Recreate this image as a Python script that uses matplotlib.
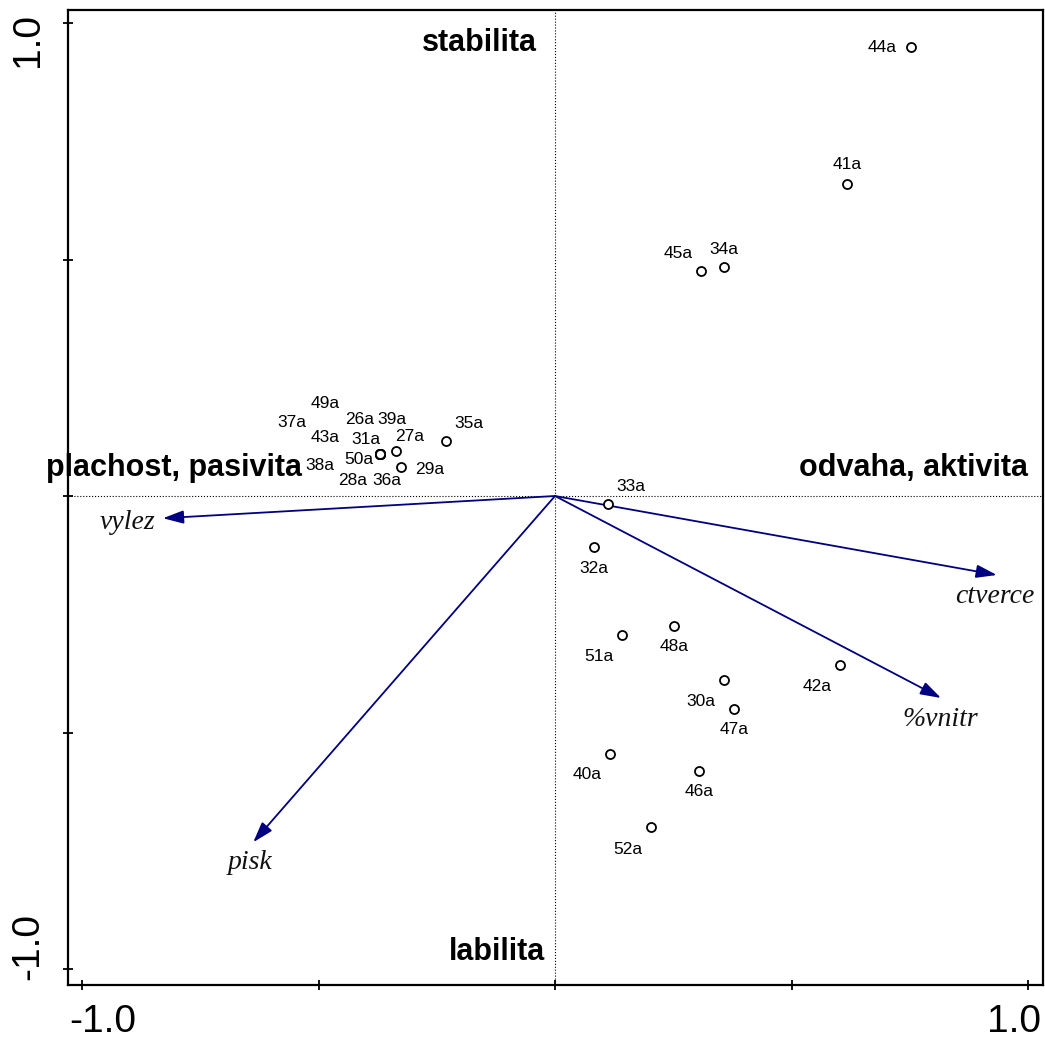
import matplotlib
matplotlib.use("Agg")
import matplotlib.pyplot as plt

# sample scores (samples as points)
vzorky = ["44a", "41a", "45a", "34a", "35a", "27a", "29a",
          "49a", "37a", "26a", "39a", "43a", "31a", "38a", "50a", "28a", "36a",
          "33a", "32a", "51a", "48a", "42a", "30a", "47a", "40a", "46a", "52a"]
vzorky_x = [0.753, 0.617, 0.309, 0.357, -0.230, -0.336, -0.326,
            -0.370, -0.370, -0.370, -0.370, -0.370, -0.370, -0.370, -0.370, -0.370, -0.370,
            0.112, 0.082, 0.142, 0.252, 0.603, 0.357, 0.378, 0.116, 0.304, 0.203]
vzorky_y = [0.949, 0.660, 0.476, 0.484, 0.117, 0.095, 0.061,
            0.089, 0.089, 0.089, 0.089, 0.089, 0.089, 0.089, 0.089, 0.089, 0.089,
            -0.017, -0.108, -0.294, -0.275, -0.357, -0.389, -0.450, -0.545, -0.581, -0.700]
# label offsets from the point, pixels (right, down)
popis_dx = [-29, 0, -23, 0, 23, 14, 29,
            -55, -88, -20, 12, -55, -14, -60, -21, -27, 7,
            23, 0, -23, 0, -23, -23, 0, -23, 0, -23]
popis_dy = [0, -19, -17, -18, -17, -15, 2,
            -50, -31, -34, -34, -16, -14, 12, 6, 27, 27,
            -18, 21, 21, 20, 22, 21, 21, 21, 21, 22]

# environmental variables (arrows)
promenne = ["vylez", "ctverce", "%vnitr", "pisk"]
promenne_x = [-0.829, 0.934, 0.816, -0.638]
promenne_y = [-0.047, -0.167, -0.427, -0.732]
promenne_dx = [-35, -2, -1, -3]
promenne_dy = [4, 22, 22, 20]

modra = "#000080"

fig = plt.figure(figsize=(10.45, 10.41), dpi=100)
ax = fig.add_axes([0.0651, 0.0538, 0.9330, 0.9366])
ax.set_xlim(-1.0296, 1.0317)
ax.set_ylim(-1.0338, 1.0275)

ax.axhline(0, color="k", ls=":", lw=0.8, zorder=1)
ax.axvline(0, color="k", ls=":", lw=0.8, zorder=1)

for nazev, x, y, dx, dy in zip(promenne, promenne_x, promenne_y, promenne_dx, promenne_dy):
    ax.annotate("", xy=(x, y), xytext=(0, 0),
                arrowprops=dict(arrowstyle="-|>,head_length=1.25,head_width=0.4",
                                color=modra, lw=1.3, shrinkA=0, shrinkB=0,
                                mutation_scale=10))
    ax.annotate(nazev, xy=(x, y), xytext=(dx, -dy), textcoords="offset pixels",
                ha="center", va="center", fontsize=20, style="italic",
                family="Liberation Serif", color="#111111")

ax.plot(vzorky_x, vzorky_y, "o", mfc="white", mec="k", ms=6.5, mew=1.3, zorder=3)
for nazev, x, y, dx, dy in zip(vzorky, vzorky_x, vzorky_y, popis_dx, popis_dy):
    ax.annotate(nazev, xy=(x, y), xytext=(dx, -dy), textcoords="offset pixels",
                ha="center", va="center", fontsize=12.5, family="Liberation Sans")

bold = dict(fontsize=22, fontweight="bold", family="Liberation Sans", va="baseline")
ax.text(-0.038, 0.941, "stabilita", ha="right", **bold)
ax.text(-0.021, -0.981, "labilita", ha="right", **bold)
ax.text(-1.076, 0.042, "plachost, pasivita", ha="left", clip_on=False, **bold)
ax.text(1.0, 0.042, "odvaha, aktivita", ha="right", **bold)

ax.set_xticks([-1.0, -0.5, 0, 0.5, 1.0])
ax.set_yticks([-1.0, -0.5, 0, 0.5, 1.0])
ax.set_xticklabels([])
ax.set_yticklabels([])
ax.tick_params(direction="inout", length=7, width=1.3, color="k")
for s in ax.spines.values():
    s.set_linewidth(1.6)

osa = dict(fontsize=28, family="Liberation Sans", transform=ax.transAxes)
ax.text(0.001, -0.038, "-1.0", ha="left", va="center", **osa)
ax.text(0.998, -0.038, "1.0", ha="right", va="center", **osa)
ax.text(-0.041, 0.997, "1.0", ha="center", va="top", rotation=90, **osa)
ax.text(-0.041, 0.005, "-1.0", ha="center", va="bottom", rotation=90, **osa)

fig.savefig("out.png", dpi=100)
